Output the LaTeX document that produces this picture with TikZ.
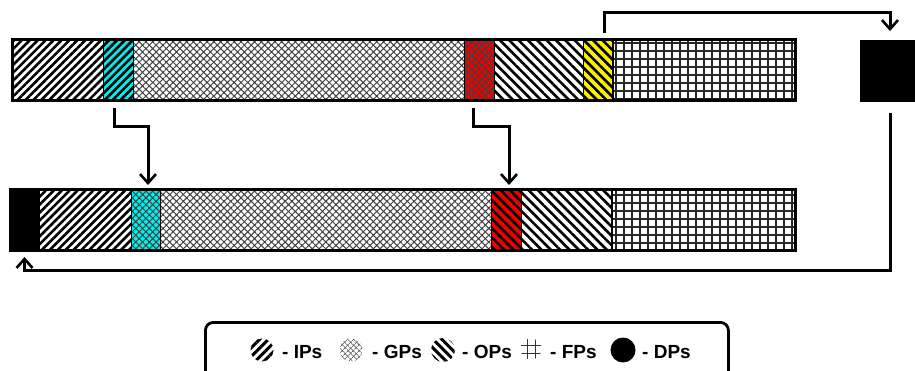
\documentclass[tikz,border=0pt]{standalone}
\usepackage{fontspec}
\setmainfont{Liberation Sans}
\usetikzlibrary{patterns.meta,arrows.meta}

\definecolor{aqua}{RGB}{0,238,238}
\definecolor{brightred}{RGB}{240,0,0}
\definecolor{brightyellow}{RGB}{250,240,0}

\tikzset{
  x=1pt, y=-1pt,
  seg/.style={draw=black, line width=0.8pt, inner sep=0pt, outer sep=0pt,
              minimum height=61pt, anchor=north west},
  ipfill/.style={pattern={Lines[angle=45,distance=5.6pt,line width=2.6pt]}, pattern color=black},
  opfill/.style={pattern={Lines[angle=-45,distance=6.6pt,line width=2.6pt]}, pattern color=black},
  gpfill/.style={pattern={Hatch[angle=45,distance=4.8pt,line width=1pt]}, pattern color=black!75},
  fpfill/.style={pattern={Hatch[angle=0,distance=8pt,line width=1.2pt]}, pattern color=black!85},
  barframe/.style={draw=black, line width=3pt},
  conn/.style={draw=black, line width=3pt,
               -{Straight Barb[length=9pt,width=16pt,line width=2.6pt]}},
  legtext/.style={anchor=base west, inner sep=0pt, font=\bfseries\fontsize{19}{21}\selectfont},
}

\begin{document}
\begin{tikzpicture}
\useasboundingbox (0,0) rectangle (915,371);

% upper bar
\node[seg, ipfill, minimum width=91pt] (t1) at (12,40) {};
\node[seg, ipfill, preaction={fill=aqua}, minimum width=30pt] (t2) at (103,40) {};
\node[seg, gpfill, minimum width=331pt] (t3) at (133,40) {};
\node[seg, gpfill, preaction={fill=brightred}, minimum width=30pt] (t4) at (464,40) {};
\node[seg, opfill, minimum width=89pt] (t5) at (494,40) {};
\node[seg, opfill, preaction={fill=brightyellow}, minimum width=30pt] (t6) at (583,40) {};
\node[seg, fpfill, minimum width=182pt] (t7) at (613,40) {};
\draw[barframe] (t1.north west) rectangle (t7.south east);
\draw[line width=2pt] (t6.north east) -- (t6.south east);

% detached block on the right
\node[seg, fill=black, minimum width=60pt] (dp) at (860,40) {};

% lower bar
\node[seg, fill=black, minimum width=29pt] (b0) at (10,190) {};
\node[seg, ipfill, minimum width=92pt] (b1) at (39,190) {};
\node[seg, gpfill, preaction={fill=aqua}, minimum width=29pt] (b2) at (131,190) {};
\node[seg, gpfill, minimum width=331pt] (b3) at (160,190) {};
\node[seg, opfill, preaction={fill=brightred}, minimum width=30pt] (b4) at (491,190) {};
\node[seg, opfill, minimum width=91pt] (b5) at (521,190) {};
\node[seg, fpfill, minimum width=183pt] (b6) at (612,190) {};
\draw[barframe] (b0.north west) rectangle (b6.south east);
\draw[line width=2pt] (b5.north east) -- (b5.south east);

% connectors
\draw[conn] ([xshift=6pt,yshift=7pt]t6.north) -- ++(0,-20) -| ([yshift=9pt]dp.north);
\draw[conn] ([yshift=-12pt]dp.south) -- ++(0,158) -| ([yshift=-6pt]b0.south);
\draw[conn] ([xshift=-4pt,yshift=-7pt]t2.south) -- ++(0,19) -| ([xshift=2.5pt,yshift=5pt]b2.north);
\draw[conn] ([xshift=-6pt,yshift=-7pt]t4.south) -- ++(0,19) -| ([xshift=3pt,yshift=5pt]b4.north);

% legend
\node[draw=black, line width=2.8pt, rounded corners=8pt, inner sep=0pt,
      minimum width=523pt, minimum height=60pt, anchor=north west] (legend) at (204,321) {};

\path[pattern={Lines[angle=45,distance=6.2pt,line width=3pt]}, pattern color=black]
      (262,350) circle (11.5);
\node[legtext] (lip) at (282,358) {- IPs};
\path[pattern={Hatch[angle=45,distance=4pt,line width=0.7pt]}, pattern color=black!60]
      (351,350) circle (11.5);
\node[legtext] (lgp) at (372,358) {- GPs};
\path[pattern={Lines[angle=-45,distance=6.2pt,line width=3pt]}, pattern color=black]
      (443,350) circle (12);
\node[legtext] (lop) at (462,358) {- OPs};
\begin{scope}
  \clip (531,349) circle (10.5);
  \draw[line width=1pt, black!80] (527,336) -- (527,362) (535,336) -- (535,362)
        (518,345) -- (544,345) (518,353) -- (544,353);
\end{scope}
\node[legtext] (lfp) at (550,358) {- FPs};
\fill[black] (623,350) circle (12.5);
\node[legtext] (ldp) at (642,358) {- DPs};
\end{tikzpicture}
\end{document}
